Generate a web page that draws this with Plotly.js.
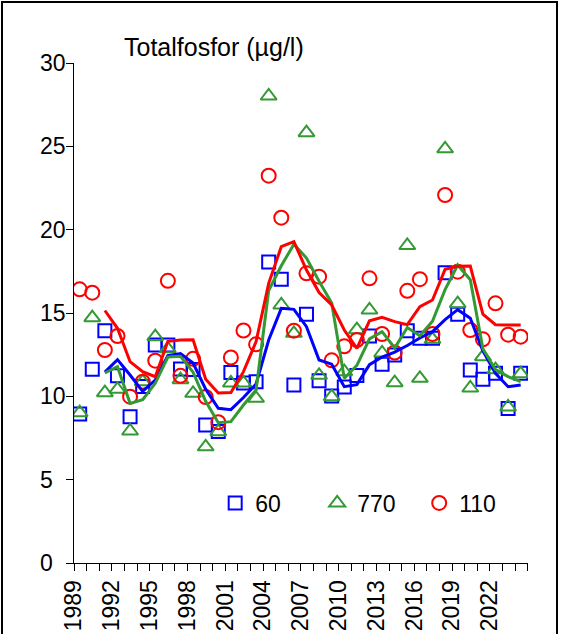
<!DOCTYPE html>
<html>
<head>
<meta charset="utf-8">
<script src="https://cdn.plot.ly/plotly-3.0.1.min.js"></script>
<style>
  html, body { margin: 0; padding: 0; background: #fff; }
  #wrap { position: relative; width: 561px; height: 634px; overflow: hidden; }
  #chart { position: absolute; left: 0; top: 0; width: 561px; height: 634px; }
  #frame { position: absolute; left: 1px; top: 1px; width: 553px; height: 700px;
           border: 2px solid #000; pointer-events: none; }
</style>
</head>
<body>
<div id="wrap">
  <div id="chart"></div>
  <div id="frame"></div>
</div>
<script>
// Years of the annual values
const years = [1989, 1990, 1991, 1992, 1993, 1994, 1995, 1996, 1997, 1998, 1999, 2000,
               2001, 2002, 2003, 2004, 2005, 2006, 2007, 2008, 2009, 2010, 2011, 2012,
               2013, 2014, 2015, 2016, 2017, 2018, 2019, 2020, 2021, 2022, 2023, 2024];

// Station 60 (blue squares)
const st60 = [8.94, 11.62, 13.94, 11.24, 8.78, 10.59, 13.08, 13.08, 11.64, 11.61, 8.28, 7.89,
              11.43, 10.8, 10.88, 18.06, 17.02, 10.68, 14.92, 10.94, 10.02, 10.56, 11.25, 13.62,
              11.93, 12.48, 13.94, 13.48, 13.48, 17.42, 14.92, 11.58, 11.02, 11.38, 9.27, 11.38];

// Station 770 (green triangles)
const st770 = [9.02, 14.72, 10.22, 10.42, 7.92, 10.88, 13.58, 12.85, 11.0, 10.18, 6.97, 7.88,
               10.8, 10.8, 9.88, 28.02, 15.48, 13.78, 25.82, 11.26, 9.98, 11.48, 14.0, 15.18,
               12.6, 10.82, 19.05, 11.08, 13.42, 24.85, 15.56, 10.5, 12.38, 11.6, 9.36, 11.36];

// Station 110 (red circles)
const st110 = [16.42, 16.22, 12.78, 13.62, 9.98, 10.88, 12.14, 16.93, 11.23, 12.25, 9.96, 8.45,
               12.33, 13.95, 13.12, 23.24, 20.72, 13.94, 17.38, 17.18, 12.16, 13.0, 13.38, 17.08,
               13.74, 12.63, 16.33, 17.03, 13.74, 22.08, 17.48, 13.98, 13.42, 15.58, 13.7, 13.58];

// Running-mean lines (years 1991-2024)
const lineYears = [1991, 1992, 1993, 1994, 1995, 1996, 1997, 1998, 1999, 2000, 2001, 2002,
                   2003, 2004, 2005, 2006, 2007, 2008, 2009, 2010, 2011, 2012, 2013, 2014,
                   2015, 2016, 2017, 2018, 2019, 2020, 2021, 2022, 2023, 2024];
const line60 = [11.45, 12.2, 11.28, 10.3, 10.98, 12.45, 12.56, 12.0, 10.43, 9.28, 9.2, 9.93,
                10.74, 13.38, 15.28, 15.22, 14.18, 12.18, 11.93, 10.58, 10.7, 11.9, 12.36, 12.65,
                13.05, 13.5, 13.88, 14.6, 15.2, 14.68, 12.73, 11.38, 10.58, 10.68];
const line770 = [11.4, 11.78, 9.58, 9.8, 10.78, 12.36, 12.4, 11.45, 9.7, 8.42, 8.48, 9.48,
                 10.38, 16.35, 17.83, 19.13, 18.3, 16.9, 15.6, 11.08, 11.86, 13.45, 13.88, 12.9,
                 14.13, 13.63, 14.5, 16.4, 17.88, 17.0, 12.85, 11.6, 11.18, 10.88];
const line110 = [15.15, 14.08, 12.08, 11.48, 11.18, 13.3, 13.38, 13.4, 11.03, 10.2, 10.23, 11.48,
                 13.28, 16.78, 18.98, 19.28, 17.58, 16.23, 15.48, 13.98, 12.88, 14.53, 14.74, 14.48,
                 14.3, 15.38, 15.78, 17.62, 17.8, 17.82, 14.93, 14.3, 14.28, 14.28];

// Axis tick labels
const xTickYears = [1989, 1992, 1995, 1998, 2001, 2004, 2007, 2010, 2013, 2016, 2019, 2022];
const yTickVals = [0, 5, 10, 15, 20, 25, 30];

const stations = ['60', '770', '110'];
const colors = ['#0000FF', '#339933', '#FF0000'];
const symbols = ['square-open', 'triangle-up-open', 'circle-open'];
const symbolSizes = [13, 14, 14];

// annual values are plotted inside their year on the axis
const inYear = y => y + 0.45;

const pointSeries = [st60, st770, st110];
const lineSeries = [line60, line770, line110];

const traces = [];
pointSeries.forEach((vals, i) => {
  traces.push({
    type: 'scatter', mode: 'markers', name: stations[i],
    x: years.map(inYear), y: vals,
    marker: { symbol: symbols[i], size: symbolSizes[i], color: colors[i],
              line: { width: 2, color: colors[i] } },
    showlegend: true, hoverinfo: 'x+y'
  });
});
lineSeries.forEach((vals, i) => {
  traces.push({
    type: 'scatter', mode: 'lines', name: stations[i] + ' medel',
    x: lineYears.map(inYear), y: vals,
    line: { color: colors[i], width: 3 },
    showlegend: false, hoverinfo: 'x+y'
  });
});

const fontFam = '"Liberation Sans", Arial, sans-serif';

// y tick labels are left-aligned in the original
const yLabelAnns = yTickVals.map(v => ({
  text: String(v), xref: 'paper', yref: 'y', x: -0.079, y: v,
  xanchor: 'left', yanchor: 'middle', showarrow: false, font: { size: 23 }
}));

const layout = {
  width: 561, height: 634,
  margin: { l: 74, r: 33, t: 63, b: 71, pad: 0 },
  paper_bgcolor: 'rgba(0,0,0,0)', plot_bgcolor: 'rgba(0,0,0,0)',
  font: { family: fontFam, size: 23, color: '#000' },
  xaxis: {
    range: [1989, 2025.03], tickmode: 'array', tickvals: xTickYears,
    ticktext: xTickYears.map(String),
    ticks: 'outside', ticklen: 7, tickwidth: 1, tickcolor: '#000',
    tickangle: -90, tickfont: { size: 23 },
    showline: true, linecolor: '#000', linewidth: 1,
    showgrid: false, zeroline: false,
    minor: { tick0: 1989, dtick: 1, ticks: 'outside', ticklen: 7, tickwidth: 1, tickcolor: '#000', showgrid: false }
  },
  yaxis: {
    range: [0, 30], tickmode: 'array', tickvals: yTickVals, showticklabels: false,
    ticks: 'outside', ticklen: 7, tickwidth: 1, tickcolor: '#000',
    showline: true, linecolor: '#000', linewidth: 1,
    showgrid: false, zeroline: false
  },
  legend: {
    orientation: 'h', x: 0.311, xanchor: 'left', y: 0.12, yanchor: 'middle',
    font: { size: 23 }, bgcolor: 'rgba(0,0,0,0)', itemwidth: 30,
    entrywidth: 57, traceorder: 'normal'
  },
  annotations: [{
    text: 'Totalfosfor (µg/l)', xref: 'paper', yref: 'paper',
    x: 0.106, y: 1.032, xanchor: 'left', yanchor: 'middle',
    showarrow: false, font: { size: 25 }
  }].concat(yLabelAnns),
  showlegend: true
};

Plotly.newPlot('chart', traces, layout, { staticPlot: true, displayModeBar: false });
</script>
</body>
</html>
